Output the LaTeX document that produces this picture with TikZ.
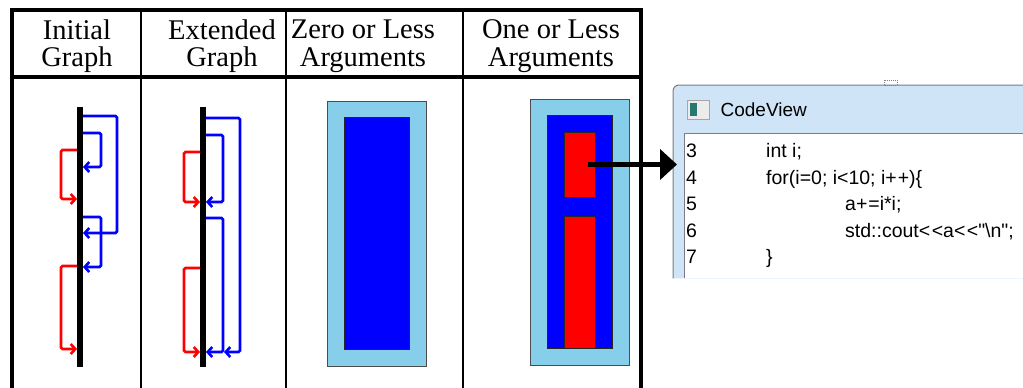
\documentclass[tikz,border=0pt]{standalone}
\usepackage{fontspec}
\setmainfont{Liberation Serif}
\newfontfamily\uifont{Liberation Sans}
\usetikzlibrary{arrows.meta, positioning, calc}
\definecolor{skyfill}{RGB}{135,206,235}
\definecolor{titlebar}{RGB}{208,228,248}
\definecolor{winedge}{RGB}{120,125,135}
\definecolor{iconteal}{RGB}{40,120,110}
\tikzset{
  rule/.style={line width=4.5pt},
  thin rule/.style={line width=1.5pt},
  bar/.style={line width=6.5pt},
  fwd/.style={red,  line width=2.6pt, rounded corners=1.5pt,
              -{Straight Barb[length=4.5pt, width=10pt]}},
  bwd/.style={blue, line width=2.6pt, rounded corners=1.5pt,
              -{Straight Barb[length=4.5pt, width=10pt]}},
  hdr/.style={font=\fontsize{28.5}{27.5}\selectfont, align=center, inner sep=0pt},
  outerbox/.style={rectangle, draw=black!70, fill=skyfill, line width=1pt, inner sep=0pt},
  innerbox/.style={rectangle, draw=black!85, fill=blue, line width=1pt, inner sep=0pt},
  hotbox/.style={rectangle, draw=black!85, fill=red, line width=1pt, inner sep=0pt},
  jump/.style={line width=5pt, -{Triangle[length=17pt, width=30pt]}},
  codeln/.style={font=\uifont\fontsize{19.5}{20}\selectfont, anchor=base west, inner sep=0pt}
}

\begin{document}
\begin{tikzpicture}[x=1pt, y=-1pt]
  \useasboundingbox (0,0) rectangle (1023,388);

  %% ── table frame ─────────────────────────────────────────
  \draw[rule] (10,10) -- (643,10);
  \draw[rule] (12,8) -- (12,388);
  \draw[rule] (641,8) -- (641,388);
  \draw[line width=3.5pt] (10,77) -- (643,77);
  \foreach \cx in {141,286,463}
    \draw[thin rule] (\cx,10) -- (\cx,388);

  %% ── header ──────────────────────────────────────────────
  \node[hdr] (hinit) at (77,46)  {Initial\\Graph};
  \node[hdr] (hext)  at (222,46) {Extended\\Graph};
  \node[hdr] (hzero) at (363,46) {Zero or Less\\Arguments};
  \node[hdr] (hone)  at (551,46) {One or Less\\Arguments};

  %% ── initial graph ───────────────────────────────────────
  \draw[bar] (80,107) -- (80,367);
  \draw[bwd] (83,116) -- (117,116) -- (117,233) -- (83,233);
  \draw[bwd] (83,133) -- (101,133) -- (101,167) -- (83,167);
  \draw[bwd] (83,217) -- (101,217) -- (101,267) -- (83,267);
  \draw[fwd] (77,150) -- (61,150) -- (61,199) -- (77,199);
  \draw[fwd] (77,266) -- (61,266) -- (61,349) -- (77,349);

  %% ── extended graph ──────────────────────────────────────
  \draw[bar] (203,107) -- (203,367);
  \draw[bwd] (206,118) -- (240,118) -- (240,352) -- (224,352);
  \draw[bwd] (206,135) -- (223,135) -- (223,202) -- (206,202);
  \draw[bwd] (206,218) -- (223,218) -- (223,352) -- (206,352);
  \draw[fwd] (200,152) -- (184,152) -- (184,202) -- (200,202);
  \draw[fwd] (200,268) -- (184,268) -- (184,352) -- (200,352);

  %% ── zero or less ────────────────────────────────────────
  \node[outerbox, minimum width=99pt, minimum height=265pt] (zout) at (376.5,233.5) {};
  \node[innerbox, minimum width=65pt, minimum height=232pt] (zin)  at (376.5,233) {};

  %% ── one or less ─────────────────────────────────────────
  \node[outerbox, minimum width=99pt, minimum height=266pt] (oout) at (579.5,232) {};
  \node[innerbox, minimum width=65pt, minimum height=233pt] (oin)  at (579.5,231.5) {};
  \node[hotbox, minimum width=31pt, minimum height=65pt]  (hot1) at (579.5,164.5) {};
  \node[hotbox, minimum width=31pt, minimum height=132pt] (hot2) at (579.5,282) {};

  %% ── code view window ────────────────────────────────────
  \node[minimum width=350pt, minimum height=193pt, inner sep=0pt, anchor=north west]
        (win) at (673,85) {};
  \fill[titlebar] (win.south west) [rounded corners=6pt]-- (win.north west)
        [sharp corners]-- (win.north east) -- (win.south east) -- cycle;
  \draw[winedge, line width=1pt] (win.south west) [rounded corners=6pt]-- (win.north west)
        [sharp corners]-- (win.north east);
  \draw[gray, densely dotted, line width=1pt] (884,80) rectangle (897,85);

  \node[rectangle, draw=gray!70, fill=gray!15, minimum width=22pt, minimum height=19pt,
        inner sep=0pt, anchor=north west] (ico) at (687,100) {};
  \fill[iconteal] ([xshift=3pt,yshift=-3pt]ico.north west) rectangle ([xshift=10pt,yshift=3pt]ico.south west);
  \node[font=\uifont\fontsize{19}{20}\selectfont, right=11pt of ico, inner sep=0pt] (ttl) {CodeView};

  \fill[white] (684,133) rectangle (1023,278);
  \draw[winedge, line width=1pt] (684,278) -- (684,133) -- (1023,133);

  \node[codeln] (n3) at (686,157) {3};
  \node[codeln] (n4) at (686,184) {4};
  \node[codeln] (n5) at (686,210) {5};
  \node[codeln] (n6) at (686,237) {6};
  \node[codeln] (n7) at (686,263) {7};
  \node[codeln] (c3) at (766,157) {int i;};
  \node[codeln] (c4) at (766,184) {for(i=0; i<10; i+\kern1pt+)\{};
  \node[codeln] (c5) at (845,210) {a+\kern1pt=i*i;};
  \node[codeln] (c6) at (845,237) {std::cout<\kern1.5pt<a<\kern1.5pt<"\textbackslash n";};
  \node[codeln] (c7) at (766,263) {\}};

  %% ── link to code ────────────────────────────────────────
  \draw[jump] ([xshift=8pt]hot1.center) -- ([xshift=4pt]hot1.center -| win.west);

\end{tikzpicture}
\end{document}
